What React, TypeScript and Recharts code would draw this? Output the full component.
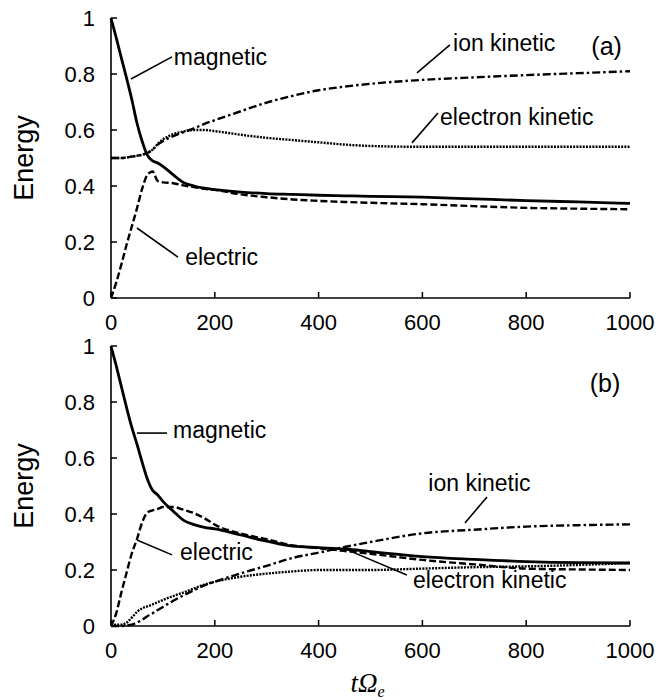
import React from "react";
import {
  LineChart,
  Line,
  XAxis,
  YAxis,
  ReferenceLine,
  ReferenceDot,
  Label,
} from "recharts";

const FONT = "'Liberation Sans', Arial, Helvetica, sans-serif";

// time samples (t * Omega_e)
const T = [
  0, 10, 20, 30, 40, 50, 60, 70, 80, 90, 100, 120, 140, 160, 180, 200, 250,
  300, 350, 400, 450, 500, 600, 700, 800, 900, 1000,
];

const X_TICKS = [0, 200, 400, 600, 800, 1000];
const Y_TICKS = [0, 0.2, 0.4, 0.6, 0.8, 1];

// panel (a)
const A_MAGNETIC = [
  1, 0.93, 0.857, 0.785, 0.71, 0.625, 0.56, 0.51, 0.49, 0.482, 0.47, 0.44,
  0.412, 0.4, 0.392, 0.387, 0.378, 0.373, 0.37, 0.367, 0.365, 0.363, 0.36,
  0.354, 0.348, 0.343, 0.338,
];
const A_ELECTRIC = [
  0, 0.055, 0.12, 0.19, 0.255, 0.32, 0.39, 0.44, 0.452, 0.418, 0.413, 0.41,
  0.402, 0.396, 0.39, 0.386, 0.37, 0.36, 0.352, 0.347, 0.343, 0.34, 0.335,
  0.328, 0.322, 0.319, 0.317,
];
const A_ION = [
  0.5, 0.5, 0.5, 0.502, 0.505, 0.508, 0.512, 0.518, 0.53, 0.548, 0.56, 0.578,
  0.592, 0.606, 0.622, 0.635, 0.667, 0.698, 0.722, 0.742, 0.755, 0.765, 0.779,
  0.788, 0.796, 0.803, 0.81,
];
const A_ELECTRON = [
  0.5, 0.5, 0.5, 0.502, 0.505, 0.508, 0.512, 0.518, 0.53, 0.55, 0.566, 0.585,
  0.595, 0.6, 0.6, 0.596, 0.583, 0.572, 0.564, 0.556, 0.548, 0.543, 0.54,
  0.54, 0.54, 0.54, 0.54,
];

// panel (b)
const B_MAGNETIC = [
  1, 0.93, 0.855, 0.78, 0.71, 0.65, 0.585, 0.525, 0.485, 0.468, 0.445, 0.41,
  0.377, 0.362, 0.352, 0.347, 0.325, 0.303, 0.285, 0.28, 0.275, 0.266, 0.248,
  0.238, 0.23, 0.226, 0.225,
];
const B_ELECTRIC = [
  0, 0.045, 0.12, 0.19, 0.259, 0.31, 0.37, 0.405, 0.413, 0.418, 0.425, 0.425,
  0.415, 0.403, 0.385, 0.362, 0.33, 0.31, 0.288, 0.278, 0.268, 0.258, 0.236,
  0.22, 0.205, 0.202, 0.2,
];
const B_ION = [
  0, 0, 0, 0.002, 0.005, 0.012, 0.022, 0.035, 0.045, 0.057, 0.068, 0.09, 0.11,
  0.128, 0.145, 0.158, 0.188, 0.215, 0.243, 0.262, 0.282, 0.3, 0.331, 0.344,
  0.355, 0.36, 0.363,
];
const B_ELECTRON = [
  0, 0.005, 0.005, 0.012, 0.03, 0.05, 0.063, 0.07, 0.077, 0.085, 0.093, 0.107,
  0.12, 0.134, 0.148, 0.158, 0.176, 0.187, 0.195, 0.2, 0.2, 0.2, 0.205, 0.21,
  0.213, 0.218, 0.225,
];

// annotations, in data coordinates
type Note = { text: string; x: number; y: number; anchor?: "start" | "middle"; size?: number };
type Leader = [number, number, number, number];

const A_NOTES: Note[] = [
  { text: "magnetic", x: 121, y: 0.861 },
  { text: "electric", x: 143, y: 0.146 },
  { text: "ion kinetic", x: 659, y: 0.911 },
  { text: "electron kinetic", x: 634, y: 0.646 },
  { text: "(a)", x: 955, y: 0.9, anchor: "middle", size: 25 },
];
const A_LEADERS: Leader[] = [
  [38.5, 0.782, 117.5, 0.861],
  [50, 0.25, 129, 0.146],
  [589.6, 0.804, 653, 0.904],
  [580, 0.554, 630, 0.661],
];

const B_NOTES: Note[] = [
  { text: "magnetic", x: 119.5, y: 0.7 },
  { text: "electric", x: 133, y: 0.264 },
  { text: "ion kinetic", x: 710, y: 0.511, anchor: "middle" },
  { text: "electron kinetic", x: 582, y: 0.164 },
  { text: "(b)", x: 952, y: 0.868, anchor: "middle", size: 25 },
];
const B_LEADERS: Leader[] = [
  [50, 0.689, 108, 0.689],
  [50, 0.307, 117.5, 0.254],
  [682, 0.368, 724.5, 0.461],
  [456.6, 0.271, 570, 0.182],
];

function rows(mag: number[], ele: number[], ion: number[], elk: number[]) {
  return T.map((t, i) => ({ t, mag: mag[i], ele: ele[i], ion: ion[i], elk: elk[i] }));
}

const axisLine = { stroke: "#000", strokeWidth: 1.6 };
const tickLine = { stroke: "#000", strokeWidth: 1.5 };
const tickStyle = { fontSize: 22, fill: "#000", fontFamily: FONT };

function EnergyLabel(props: any) {
  const vb = props.viewBox || { x: 0, y: 18, width: 111, height: 280 };
  const cx = 33;
  const cy = vb.y + vb.height / 2;
  return (
    <text
      x={cx}
      y={cy}
      transform={`rotate(-90, ${cx}, ${cy})`}
      textAnchor="middle"
      fontSize={27}
      fontFamily={FONT}
      fill="#000"
    >
      Energy
    </text>
  );
}

function TimeLabel(props: any) {
  const vb = props.viewBox || { x: 111, y: 298, width: 519, height: 74 };
  const x = vb.x + vb.width / 2 - 20;
  const y = vb.y + 66;
  return (
    <text
      x={x}
      y={y}
      fontFamily="'Liberation Serif', 'Times New Roman', serif"
      fontStyle="italic"
      fontSize={27}
      fill="#000"
    >
      <tspan>t</tspan>
      <tspan>Ω</tspan>
      <tspan dy={5} fontSize={16}>
        e
      </tspan>
    </text>
  );
}

function noteShape(n: Note) {
  return (p: any) => (
    <text
      x={p.cx}
      y={p.cy}
      textAnchor={n.anchor || "start"}
      dominantBaseline="central"
      fontSize={n.size || 23}
      fontFamily={FONT}
      fill="#000"
    >
      {n.text}
    </text>
  );
}

function Panel({
  data,
  notes,
  leaders,
  height,
  xAxisHeight,
  showTime,
}: {
  data: ReturnType<typeof rows>;
  notes: Note[];
  leaders: Leader[];
  height: number;
  xAxisHeight: number;
  showTime?: boolean;
}) {
  return (
    <LineChart
      width={670}
      height={height}
      data={data}
      margin={{ top: 18, right: 40, bottom: 0, left: 0 }}
    >
      <XAxis
        dataKey="t"
        type="number"
        domain={[0, 1000]}
        ticks={X_TICKS}
        height={xAxisHeight}
        axisLine={axisLine}
        tickLine={tickLine}
        tickSize={-6}
        tickMargin={22}
        tick={tickStyle}
        interval={0}
      >
        {showTime && <Label content={<TimeLabel />} />}
      </XAxis>
      <XAxis
        xAxisId="top"
        dataKey="t"
        type="number"
        orientation="top"
        domain={[0, 1000]}
        ticks={X_TICKS}
        height={0}
        mirror
        axisLine={axisLine}
        tickLine={tickLine}
        tickSize={6}
        tick={false}
      />
      <YAxis
        type="number"
        domain={[0, 1]}
        ticks={Y_TICKS}
        width={111}
        axisLine={axisLine}
        tickLine={tickLine}
        tickSize={-6}
        tickMargin={22}
        tick={tickStyle}
        interval={0}
      >
        <Label content={<EnergyLabel />} />
      </YAxis>
      <YAxis
        yAxisId="right"
        orientation="right"
        type="number"
        domain={[0, 1]}
        allowDataOverflow
        ticks={Y_TICKS}
        width={0}
        mirror
        axisLine={axisLine}
        tickLine={tickLine}
        tickSize={6}
        tick={false}
      />

      <Line
        dataKey="mag"
        type="monotone"
        stroke="#000"
        strokeWidth={2.8}
        dot={false}
        isAnimationActive={false}
      />
      <Line
        dataKey="ele"
        type="monotone"
        stroke="#000"
        strokeWidth={2.4}
        strokeDasharray="7 3"
        dot={false}
        isAnimationActive={false}
      />
      <Line
        dataKey="ion"
        type="monotone"
        stroke="#000"
        strokeWidth={2.4}
        strokeDasharray="8 3 2.5 3"
        dot={false}
        isAnimationActive={false}
      />
      <Line
        dataKey="elk"
        type="monotone"
        stroke="#000"
        strokeWidth={2.4}
        strokeDasharray="2 1.2"
        dot={false}
        isAnimationActive={false}
      />

      {leaders.map((l, i) => (
        <ReferenceLine
          key={`l${i}`}
          segment={[
            { x: l[0], y: l[1] },
            { x: l[2], y: l[3] },
          ]}
          stroke="#000"
          strokeWidth={1.6}
        />
      ))}
      {notes.map((n, i) => (
        <ReferenceDot key={`n${i}`} x={n.x} y={n.y} r={1} shape={noteShape(n)} />
      ))}
    </LineChart>
  );
}

export default function App() {
  return (
    <div
      style={{
        position: "absolute",
        left: 0,
        top: 0,
        width: 670,
        height: 700,
        background: "#fff",
      }}
    >
      <div style={{ position: "absolute", left: 0, top: 0 }}>
        <Panel
          data={rows(A_MAGNETIC, A_ELECTRIC, A_ION, A_ELECTRON)}
          notes={A_NOTES}
          leaders={A_LEADERS}
          height={340}
          xAxisHeight={42}
        />
      </div>
      <div style={{ position: "absolute", left: 0, top: 328 }}>
        <Panel
          data={rows(B_MAGNETIC, B_ELECTRIC, B_ION, B_ELECTRON)}
          notes={B_NOTES}
          leaders={B_LEADERS}
          height={372}
          xAxisHeight={74}
          showTime
        />
      </div>
    </div>
  );
}
